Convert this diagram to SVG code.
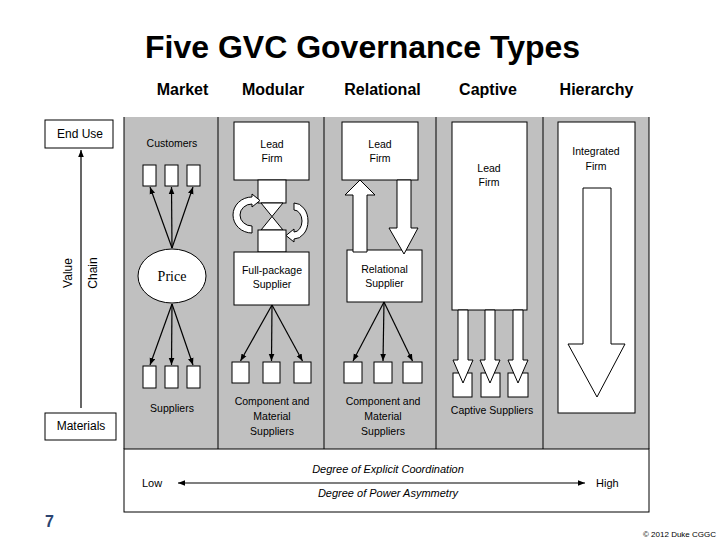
<svg xmlns="http://www.w3.org/2000/svg" width="728" height="546" viewBox="0 0 728 546">
<style>
.t{font-family:"Liberation Sans",Arial,sans-serif;fill:#000}
.hd{font-family:"Liberation Sans",Arial,sans-serif;font-weight:bold;font-size:16px;text-anchor:middle}
.lb{font-family:"Liberation Sans",Arial,sans-serif;font-size:10.5px;text-anchor:middle;fill:#000}
.ax{font-family:"Liberation Sans",Arial,sans-serif;font-size:12px;fill:#000}
.it{font-family:"Liberation Sans",Arial,sans-serif;font-size:11px;font-style:italic;text-anchor:middle}
.box{fill:#fff;stroke:#000;stroke-width:1}
.ln{stroke:#000;stroke-width:1.2;fill:none}
.blk{fill:#fff;stroke:#000;stroke-width:1}
</style>
<defs>
<marker id="ah" viewBox="0 0 10 10" refX="10" refY="5" markerWidth="7" markerHeight="7" markerUnits="userSpaceOnUse" orient="auto-start-reverse">
<path d="M0,1 L10,5 L0,9 z" fill="#000"/>
</marker>
</defs>
<rect width="728" height="546" fill="#fff"/>
<text class="t" x="145" y="58" font-size="32" font-weight="bold">Five GVC Governance Types</text>
<g id="headers">
<text class="hd" x="182.5" y="95">Market</text>
<text class="hd" x="273" y="95">Modular</text>
<text class="hd" x="382.5" y="95">Relational</text>
<text class="hd" x="488" y="95">Captive</text>
<text class="hd" x="596.5" y="95">Hierarchy</text>
</g>
<g id="panel">
<rect x="124" y="117" width="525" height="332" fill="#c0c0c0"/>
<line x1="124" y1="117" x2="124" y2="449" stroke="#000"/>
<line x1="649" y1="117" x2="649" y2="449" stroke="#000"/>
<line x1="218" y1="117" x2="218" y2="449" stroke="#000"/>
<line x1="324" y1="117" x2="324" y2="449" stroke="#000"/>
<line x1="436" y1="117" x2="436" y2="449" stroke="#000"/>
<line x1="543" y1="117" x2="543" y2="449" stroke="#000"/>
</g>
<g id="axis-left">
<g id="end-use"><rect class="box" x="45" y="120" width="68" height="28"/><text class="ax" x="80" y="138" text-anchor="middle">End Use</text></g>
<g id="materials"><rect class="box" x="45" y="413" width="71" height="27"/><text class="ax" x="81" y="430" text-anchor="middle">Materials</text></g>
<text class="ax" transform="translate(72,273) rotate(-90)" text-anchor="middle">Value</text>
<text class="ax" transform="translate(97,273) rotate(-90)" text-anchor="middle">Chain</text>
</g>
<g id="market">
<text class="lb" x="172" y="147">Customers</text>
<rect class="box" x="143" y="165" width="13" height="21"/>
<rect class="box" x="165" y="165" width="13" height="21"/>
<rect class="box" x="187" y="165" width="13" height="21"/>
<ellipse class="box" cx="172" cy="276" rx="34" ry="27"/>
<text x="172" y="281" font-family="'Liberation Serif','Times New Roman',serif" font-size="14" text-anchor="middle">Price</text>
<rect class="box" x="143" y="366" width="13" height="22"/>
<rect class="box" x="165" y="366" width="13" height="22"/>
<rect class="box" x="187" y="366" width="13" height="22"/>
<text class="lb" x="172" y="412">Suppliers</text>
</g>
<g id="modular">
<rect class="box" x="234" y="122" width="75" height="58"/>
<text class="lb" x="272" y="148">Lead</text>
<text class="lb" x="272" y="162">Firm</text>
<rect class="box" x="258" y="180" width="28" height="23"/>
<polygon class="box" points="261,203 283,203 272,216.5 283,230 261,230 272,216.5"/>
<rect class="box" x="258" y="230" width="28" height="22"/>
<rect class="box" x="234" y="252" width="75" height="53"/>
<text class="lb" x="272" y="274">Full-package</text>
<text class="lb" x="272" y="288">Supplier</text>
<rect class="box" x="232" y="362" width="17" height="21"/>
<rect class="box" x="263" y="362" width="17" height="21"/>
<rect class="box" x="294" y="362" width="17" height="21"/>
<text class="lb" x="272" y="405">Component and</text>
<text class="lb" x="272" y="420">Material</text>
<text class="lb" x="272" y="435">Suppliers</text>
</g>
<g id="relational">
<rect class="box" x="342" y="122" width="76" height="58"/>
<text class="lb" x="380" y="148">Lead</text>
<text class="lb" x="380" y="162">Firm</text>
<rect class="box" x="347" y="250" width="75" height="52"/>
<text class="lb" x="384.5" y="273">Relational</text>
<text class="lb" x="384.5" y="287">Supplier</text>
<rect class="box" x="344" y="362" width="18" height="21"/>
<rect class="box" x="374" y="362" width="18" height="21"/>
<rect class="box" x="403" y="362" width="19" height="21"/>
<text class="lb" x="383" y="405">Component and</text>
<text class="lb" x="383" y="420">Material</text>
<text class="lb" x="383" y="435">Suppliers</text>
</g>
<g id="captive">
<rect class="box" x="452" y="122" width="75" height="188"/>
<text class="lb" x="489" y="172">Lead</text>
<text class="lb" x="489" y="186">Firm</text>
<rect class="box" x="453" y="373" width="19" height="24"/>
<rect class="box" x="481" y="373" width="19" height="24"/>
<rect class="box" x="508" y="373" width="20" height="24"/>
<text class="lb" x="492" y="414">Captive Suppliers</text>
</g>
<g id="hierarchy">
<rect class="box" x="558" y="122" width="77" height="291"/>
<text class="lb" x="596" y="155">Integrated</text>
<text class="lb" x="596" y="170">Firm</text>
</g>
<g id="connectors">
<line class="ln" x1="81" y1="408" x2="81" y2="150" marker-end="url(#ah)"/>
<line class="ln" x1="172" y1="248" x2="150" y2="187" marker-end="url(#ah)"/>
<line class="ln" x1="172" y1="248" x2="171.5" y2="187" marker-end="url(#ah)"/>
<line class="ln" x1="172" y1="248" x2="193" y2="187" marker-end="url(#ah)"/>
<line class="ln" x1="172" y1="304" x2="150" y2="365" marker-end="url(#ah)"/>
<line class="ln" x1="172" y1="304" x2="171.5" y2="365" marker-end="url(#ah)"/>
<line class="ln" x1="172" y1="304" x2="193" y2="365" marker-end="url(#ah)"/>
<path class="blk" d="M252,233 A19,18 0 0 1 252,197 L252,194 L260,200.5 L252,207 L252,204 A12,11 0 0 0 252,226 Z"/>
<path class="blk" d="M294,203 A14,18 0 0 1 294,239 L294,242 L286,235.5 L294,229 L294,232 A8,11 0 0 0 294,210 Z"/>
<line class="ln" x1="272" y1="305" x2="240.5" y2="361" marker-end="url(#ah)"/>
<line class="ln" x1="272" y1="305" x2="271.5" y2="361" marker-end="url(#ah)"/>
<line class="ln" x1="272" y1="305" x2="302.5" y2="361" marker-end="url(#ah)"/>
<polygon class="blk" points="353,252 353,195 345,195 360,180 375,195 367,195 367,252"/>
<polygon class="blk" points="397,180 411,180 411,228 418,228 404,254 389,228 397,228"/>
<line class="ln" x1="384" y1="302" x2="353" y2="361" marker-end="url(#ah)"/>
<line class="ln" x1="384" y1="302" x2="383" y2="361" marker-end="url(#ah)"/>
<line class="ln" x1="384" y1="302" x2="412.5" y2="361" marker-end="url(#ah)"/>
<polygon class="blk" points="458,310 468,310 468,360 473,360 463,383 453,360 458,360"/>
<polygon class="blk" points="485,310 495,310 495,360 500,360 490,383 480,360 485,360"/>
<polygon class="blk" points="513,310 523,310 523,360 528,360 518,383 508,360 513,360"/>
<polygon class="blk" points="583,188 611,188 611,344 625,344 597,397 568,344 583,344"/>
</g>
<g id="scale">
<rect x="124" y="449" width="525" height="63" fill="#fff" stroke="#000"/>
<text class="it" x="388" y="473">Degree of Explicit Coordination</text>
<text class="it" x="388" y="497">Degree of Power Asymmetry</text>
<line class="ln" x1="178" y1="483" x2="585" y2="483" marker-start="url(#ah)" marker-end="url(#ah)"/>
<text class="t" x="142" y="487" font-size="11">Low</text>
<text class="t" x="596" y="487" font-size="11">High</text>
</g>
<text x="45" y="527" font-family="'Liberation Sans',Arial,sans-serif" font-size="16" font-weight="bold" fill="#2b4470">7</text>
<text x="643" y="537" font-family="'Liberation Sans',Arial,sans-serif" font-size="8" fill="#000">© 2012 Duke CGGC</text>
</svg>
